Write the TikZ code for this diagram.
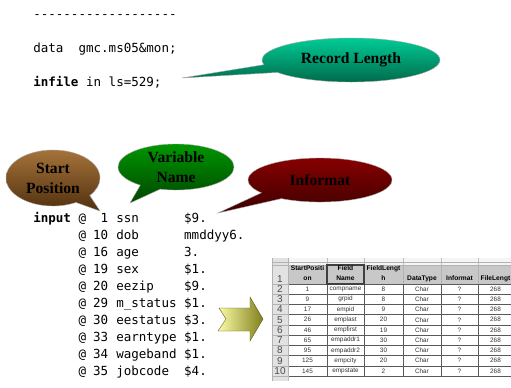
\documentclass[tikz,border=0pt]{standalone}
\usepackage{fontspec}
\setmainfont{Liberation Serif}
\setmonofont{DejaVu Sans Mono}
\newfontfamily\sheetfont{Liberation Sans}
\usetikzlibrary{shapes.callouts}
\definecolor{recordTop}{RGB}{0,204,150}
\definecolor{recordBot}{RGB}{0,100,70}
\definecolor{startTop}{RGB}{165,115,58}
\definecolor{startBot}{RGB}{80,48,14}
\definecolor{varTop}{RGB}{0,150,0}
\definecolor{varBot}{RGB}{0,70,0}
\definecolor{infTop}{RGB}{135,0,0}
\definecolor{infBot}{RGB}{60,0,0}
\definecolor{arrLight}{RGB}{252,252,165}
\definecolor{arrDark}{RGB}{128,128,30}
\definecolor{sheetHead}{RGB}{200,200,200}
\definecolor{sheetSide}{RGB}{226,226,226}
\tikzset{
  code/.style={anchor=base west,inner sep=0pt,font=\ttfamily\fontsize{9.4}{11}\selectfont},
  balloon/.style={ellipse callout,draw=gray!70,line width=0.3pt,inner sep=0pt,align=center,
    callout pointer arc=22,font=\bfseries\fontsize{11.7}{15}\selectfont},
  cell/.style={inner sep=0pt,text=black!80,font=\sheetfont\fontsize{4.8}{5.5}\selectfont},
  headcell/.style={anchor=south,inner sep=0pt,text depth=0pt,align=center,
    font=\sheetfont\bfseries\fontsize{5}{7.5}\selectfont},
  rownum/.style={inner sep=0pt,text=black!70,font=\sheetfont\fontsize{7.5}{8}\selectfont},
}
\begin{document}
\begin{tikzpicture}[x=0.75pt,y=-0.75pt]
\pgfmathsetmacro{\cw}{7.545}
\pgfmathsetmacro{\lx}{33}
\pgfmathsetmacro{\rh}{10.22}
\useasboundingbox (0,0) rectangle (511,387);
%program text
\node[code] (dashes) at (\lx,18.5) {-------------------};
\node[code] (dataline) at (\lx,52) {data\ \ gmc.ms05\&mon;};
\node[code] (infile) at (\lx,86) {\textbf{infile} in ls=529;};
\node[code] (input) at (\lx,222) {\textbf{input}};
\foreach \num/\var/\fmt [count=\i from 0] in {1/ssn/\$9.,10/dob/mmddyy6.,16/age/3.,19/sex/\$1.,20/eezip/\$9.,29/m\_status/\$1.,30/eestatus/\$3.,33/earntype/\$1.,34/wageband/\$1.,35/jobcode/\$4.}{
  \node[code] (at\i) at (\lx+6*\cw,222+17*\i) {@};
  \node[code,anchor=base east] (num\i) at (\lx+10*\cw,222+17*\i) {\num};
  \node[code] (var\i) at (\lx+11*\cw,222+17*\i) {\var};
  \node[code] (fmt\i) at (\lx+20*\cw,222+17*\i) {\fmt};
}
%balloons
\coordinate (recordTip) at (182,78);
\coordinate (startTip) at (100,211);
\coordinate (varTip) at (130,203);
\coordinate (infTip) at (218,213);
\node[balloon,minimum width=133.5pt,minimum height=33pt,top color=recordTop,bottom color=recordBot,
  callout absolute pointer={(recordTip)}] (record) at (351,60) {Record Length};
\node[balloon,minimum width=70.5pt,minimum height=42pt,top color=startTop,bottom color=startBot,
  callout absolute pointer={(startTip)}] (start) at (53,178) {Start\\Position};
\node[balloon,minimum width=87pt,minimum height=34.5pt,top color=varTop,bottom color=varBot,
  callout absolute pointer={(varTip)}] (variable) at (176,167) {Variable\\Name};
\node[balloon,minimum width=108pt,minimum height=33pt,top color=infTop,bottom color=infBot,
  callout absolute pointer={(infTip)}] (informat) at (320,180) {Informat};
%arrow
\draw[draw=arrDark!70!black,line width=0.3pt,left color=arrLight,right color=arrDark]
  (219,308) -- (250,308) -- (250,297) -- (263,319) -- (250,341) -- (250,331) -- (218,331) -- (226,319) -- cycle;
%sheet
\begin{scope}
\clip (268,255) rectangle (511,387);
\fill[gray!8] (272,258) rectangle (513,265);
\fill[sheetSide] (272,258) rectangle (288,381);
\fill[sheetHead] (288,265) rectangle (513,284);
\foreach \cx in {272,288,327,364,403,441,478}
  \draw[gray!50,line width=0.3pt] (\cx,258) -- (\cx,265);
\draw[gray!60,line width=0.3pt] (272,262) -- (513,262);
\draw[gray!60,line width=0.3pt] (272,265) -- (513,265);
\draw[gray!60,line width=0.3pt] (272,284) -- (288,284);
\foreach \k in {0,...,9}
  \draw[black!65,line width=0.3pt] (288,284+\k*\rh) -- (513,284+\k*\rh);
\foreach \k in {1,...,9}
  \draw[gray!60,line width=0.3pt] (272,284+\k*\rh) -- (288,284+\k*\rh);
\draw[gray!60,line width=0.3pt] (272,258) -- (272,381);
\draw[gray!60,line width=0.3pt] (288,258) -- (288,381);
\draw[gray!50,line width=0.3pt] (288,376) -- (288,381);
\foreach \cx in {327,364,403,441,478}{
  \draw[gray!60,line width=0.3pt] (\cx,265) -- (\cx,284);
  \draw[black!65,line width=0.3pt] (\cx,284) -- (\cx,376);
}
\draw[black!75,line width=0.8pt] (327,265) rectangle (364,284);
%header
\node[headcell] (hStart) at (307.5,281) {StartPositi\\on};
\node[headcell] (hField) at (345.5,281) {Field\\Name};
\node[headcell] (hLength) at (383.5,281) {FieldLengt\\h};
\node[headcell] (hType) at (422,281) {DataType};
\node[headcell] (hInformat) at (459.5,281) {Informat};
\node[headcell] (hFile) at (495.5,281) {FileLengt};
\node[rownum] (row1) at (280,279) {1};
%rows
\foreach \sp/\fn/\fl [count=\n from 2] in {1/compname/8,9/grpid/8,17/empid/9,26/emplast/20,46/empfirst/19,65/empaddr1/30,95/empaddr2/30,125/empcity/20,145/empstate/2}{
  \pgfmathsetmacro{\ry}{284+(\n-1.5)*\rh}
  \node[rownum] (row\n) at (280,\ry) {\n};
  \node[cell] (sp\n) at (307.5,\ry) {\sp};
  \node[cell] (fn\n) at (345.5,\ry) {\fn};
  \node[cell] (fl\n) at (383.5,\ry) {\fl};
  \node[cell] (dt\n) at (422,\ry) {Char};
  \node[cell] (inf\n) at (459.5,\ry) {?};
  \node[cell] (file\n) at (495.5,\ry) {268};
}
\end{scope}
\end{tikzpicture}
\end{document}
